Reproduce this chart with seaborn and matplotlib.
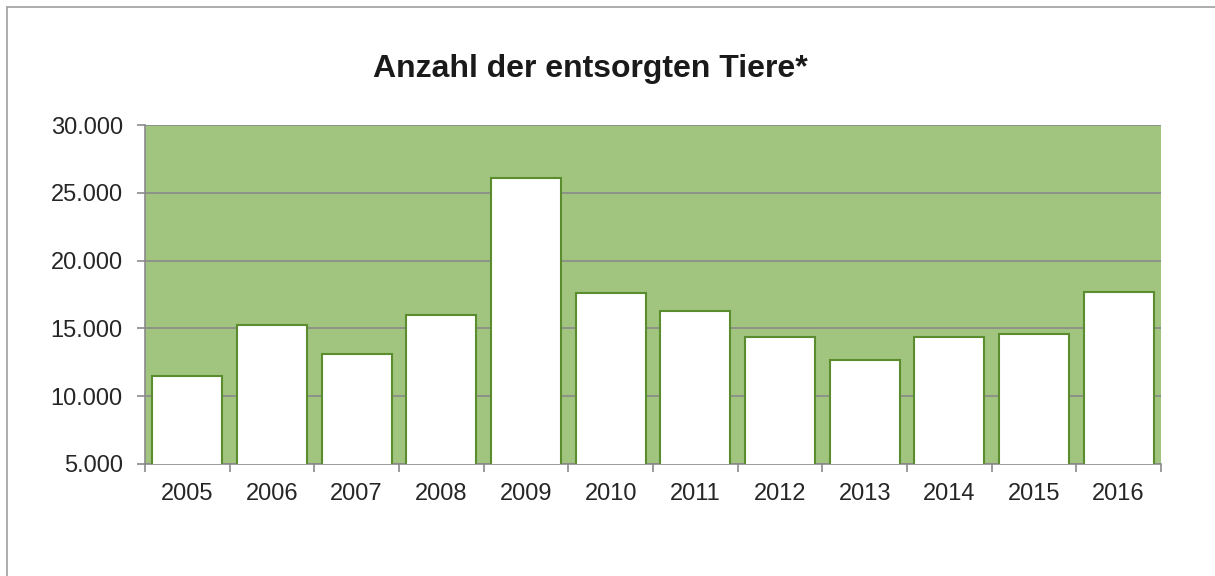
import numpy as np
import pandas as pd
import matplotlib
matplotlib.use("Agg")
import matplotlib.pyplot as plt
from matplotlib.lines import Line2D
from matplotlib.ticker import FuncFormatter
import seaborn as sns

years = ["2005", "2006", "2007", "2008", "2009", "2010",
         "2011", "2012", "2013", "2014", "2015", "2016"]
tiere = [11500, 15250, 13100, 16000, 26100, 17600,
         16300, 14400, 12700, 14400, 14600, 17700]
title = "Anzahl der entsorgten Tiere*"

df = pd.DataFrame({"Jahr": years, "Tiere": tiere})

sns.set_style("white")
plt.rcParams["font.family"] = ["Liberation Sans", "DejaVu Sans"]

fig = plt.figure(figsize=(12.15, 5.76), dpi=100)
ax = fig.add_axes([145 / 1215, 1 - 464 / 576, (1161 - 145) / 1215, (464 - 125) / 576])
ax.set_facecolor("#a1c57f")

sns.barplot(data=df, x="Jahr", y="Tiere", color="white", width=0.83,
            edgecolor="#5b8c2e", linewidth=1.5, saturation=1, ax=ax, zorder=3)

ax.set_ylim(5000, 30000)
ax.set_xlim(-0.5, len(years) - 0.5)
ax.set_yticks(np.arange(5000, 30001, 5000))
ax.yaxis.set_major_formatter(FuncFormatter(lambda v, p: f"{int(v):,}".replace(",", ".")))
ax.grid(axis="y", color="#8a8a8a", linewidth=1.2, zorder=1)
ax.set_axisbelow(True)

# ticks between categories, labels centered
ax.set_xticks(np.arange(-0.5, len(years), 1.0))
ax.set_xticklabels([])
ax.set_xticks(np.arange(len(years)), minor=True)
ax.set_xticklabels(years, minor=True)
ax.tick_params(axis="x", which="major", bottom=True, length=6, width=1.2,
               color="#8a8a8a", direction="out")
ax.tick_params(axis="x", which="minor", bottom=True, length=0, pad=14,
               labelsize=17, labelcolor="#262626")
ax.tick_params(axis="y", length=6, width=1.2, color="#8a8a8a", pad=10,
               labelsize=17, labelcolor="#262626", left=True)
ax.set_xlabel("")
ax.set_ylabel("")

for s in ["top", "right"]:
    ax.spines[s].set_visible(False)
for s in ["left", "bottom"]:
    ax.spines[s].set_color("#8a8a8a")
    ax.spines[s].set_linewidth(1.2)

fig.text(590 / 1215, 1 - 69 / 576, title, ha="center", va="center",
         fontsize=23, fontweight="bold", color="#1a1a1a")

# outer chart frame
fig.add_artist(Line2D([7 / 1215, 7 / 1215], [0, 1 - 7 / 576], transform=fig.transFigure,
                      color="#a0a0a0", linewidth=1.2))
fig.add_artist(Line2D([7 / 1215, 1], [1 - 7 / 576, 1 - 7 / 576], transform=fig.transFigure,
                      color="#a0a0a0", linewidth=1.2))

fig.savefig("out.png", dpi=100)
